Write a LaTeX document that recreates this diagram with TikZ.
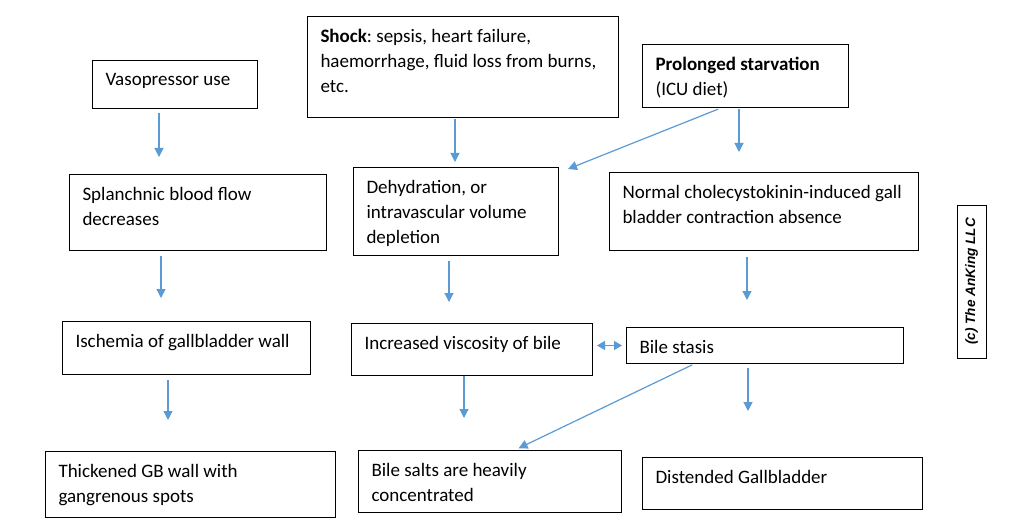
\documentclass[tikz,border=0pt]{standalone}
\usepackage{fontspec}
\setmainfont{Carlito}
\newfontfamily\markfont{Liberation Sans}
\usetikzlibrary{arrows.meta, positioning, calc}
\frenchspacing
\definecolor{arrowblue}{RGB}{91,155,213}
\newcommand{\boxtxt}[3]{\parbox[b][#2pt][t]{#1pt}{\vspace*{1.5pt}\raggedright #3}}
\tikzset{
  flowbox/.style={rectangle,draw=black,line width=1pt,anchor=north west,inner xsep=13pt,inner ysep=11pt,font=\fontsize{19}{25}\selectfont},
  markbox/.style={rectangle,draw=black,line width=1pt,rotate=90,minimum width=153pt,minimum height=29pt,inner sep=0pt,font=\markfont\bfseries\itshape\fontsize{13.6}{16}\selectfont},
  arr/.style={-{Triangle[width=9pt,length=9pt]},line width=1.2pt,color=arrowblue},
  dblarr/.style={{Triangle[width=9pt,length=8pt]}-{Triangle[width=9pt,length=8pt]},line width=1.2pt,color=arrowblue}
}

\begin{document}
\begin{tikzpicture}[x=1pt,y=-1pt]
  \useasboundingbox[fill=white] (0,0) rectangle (1023,532);
  % causes
  \node[flowbox] (vaso) at (92,60) {\boxtxt{139}{26}{Vasopressor use}};
  \node[flowbox] (shock) at (307,16) {\boxtxt{285}{79}{\textbf{Shock}: sepsis, heart failure,\\haemorrhage, fluid loss from burns,\\etc.}};
  \node[flowbox] (starv) at (642,44) {\boxtxt{180}{41}{\textbf{Prolonged starvation}\\(ICU diet)}};
  % second row
  \node[flowbox] (splanch) at (69,174) {\boxtxt{231}{54}{Splanchnic blood flow\\decreases}};
  \node[flowbox] (dehyd) at (353,167) {\boxtxt{179}{66}{Dehydration, or\\intravascular volume\\depletion}};
  \node[flowbox] (cck) at (609,172) {\boxtxt{283}{56}{\mbox{Normal cholecystokinin-induced gall}\\bladder contraction absence}};
  % third row
  \node[flowbox] (isch) at (62,321) {\boxtxt{222}{31}{Ischemia of gallbladder wall}};
  \node[flowbox] (visc) at (351,323) {\boxtxt{215}{30}{Increased viscosity of bile}};
  \node[flowbox] (stasis) at (626,327) {\boxtxt{251}{14}{Bile stasis}};
  % results
  \node[flowbox] (thick) at (45,451) {\boxtxt{264}{44}{Thickened GB wall with\\gangrenous spots}};
  \node[flowbox] (salts) at (358,450) {\boxtxt{237}{40}{Bile salts are heavily\\concentrated}};
  \node[flowbox] (dist) at (642,457) {\boxtxt{254}{30}{Distended Gallbladder}};
  \node[markbox] (mark) at (971.5,281.5) {(c) The AnKing LLC};

  \draw[arr,shorten <=4pt,shorten >=17pt] (vaso.south -| 159,0) -- (splanch.north -| 159,0);
  \draw[arr,shorten <=1pt,shorten >=5pt] (shock.south -| 455,0) -- (dehyd.north -| 455,0);
  \draw[arr,shorten <=1pt,shorten >=20pt] (starv.south -| 739,0) -- (cck.north -| 739,0);
  \draw[arr,shorten <=3pt] (starv.south -| 721,0) -- ([shift={(9,2)}]dehyd.north east);
  \draw[arr,shorten <=5pt,shorten >=23pt] (splanch.south -| 161,0) -- (isch.north -| 161,0);
  \draw[arr,shorten <=5pt,shorten >=21pt] (dehyd.south -| 449,0) -- (visc.north -| 449,0);
  \draw[arr,shorten <=6pt,shorten >=27pt] (cck.south -| 747,0) -- (stasis.north -| 747,0);
  \draw[dblarr,shorten <=4pt,shorten >=4pt] (visc.east |- stasis.west) -- (stasis.west);
  \draw[arr,shorten <=5pt,shorten >=31pt] (isch.south -| 168,0) -- (thick.north -| 168,0);
  \draw[arr,shorten >=32pt] (visc.south -| 464,0) -- (salts.north -| 464,0);
  \draw[arr,shorten <=4pt,shorten >=46pt] (stasis.south -| 748,0) -- (dist.north -| 748,0);
  \draw[arr,shorten <=2pt,shorten >=4pt] (stasis.south -| 694,0) -- (salts.north -| 515,0);
\end{tikzpicture}
\end{document}
